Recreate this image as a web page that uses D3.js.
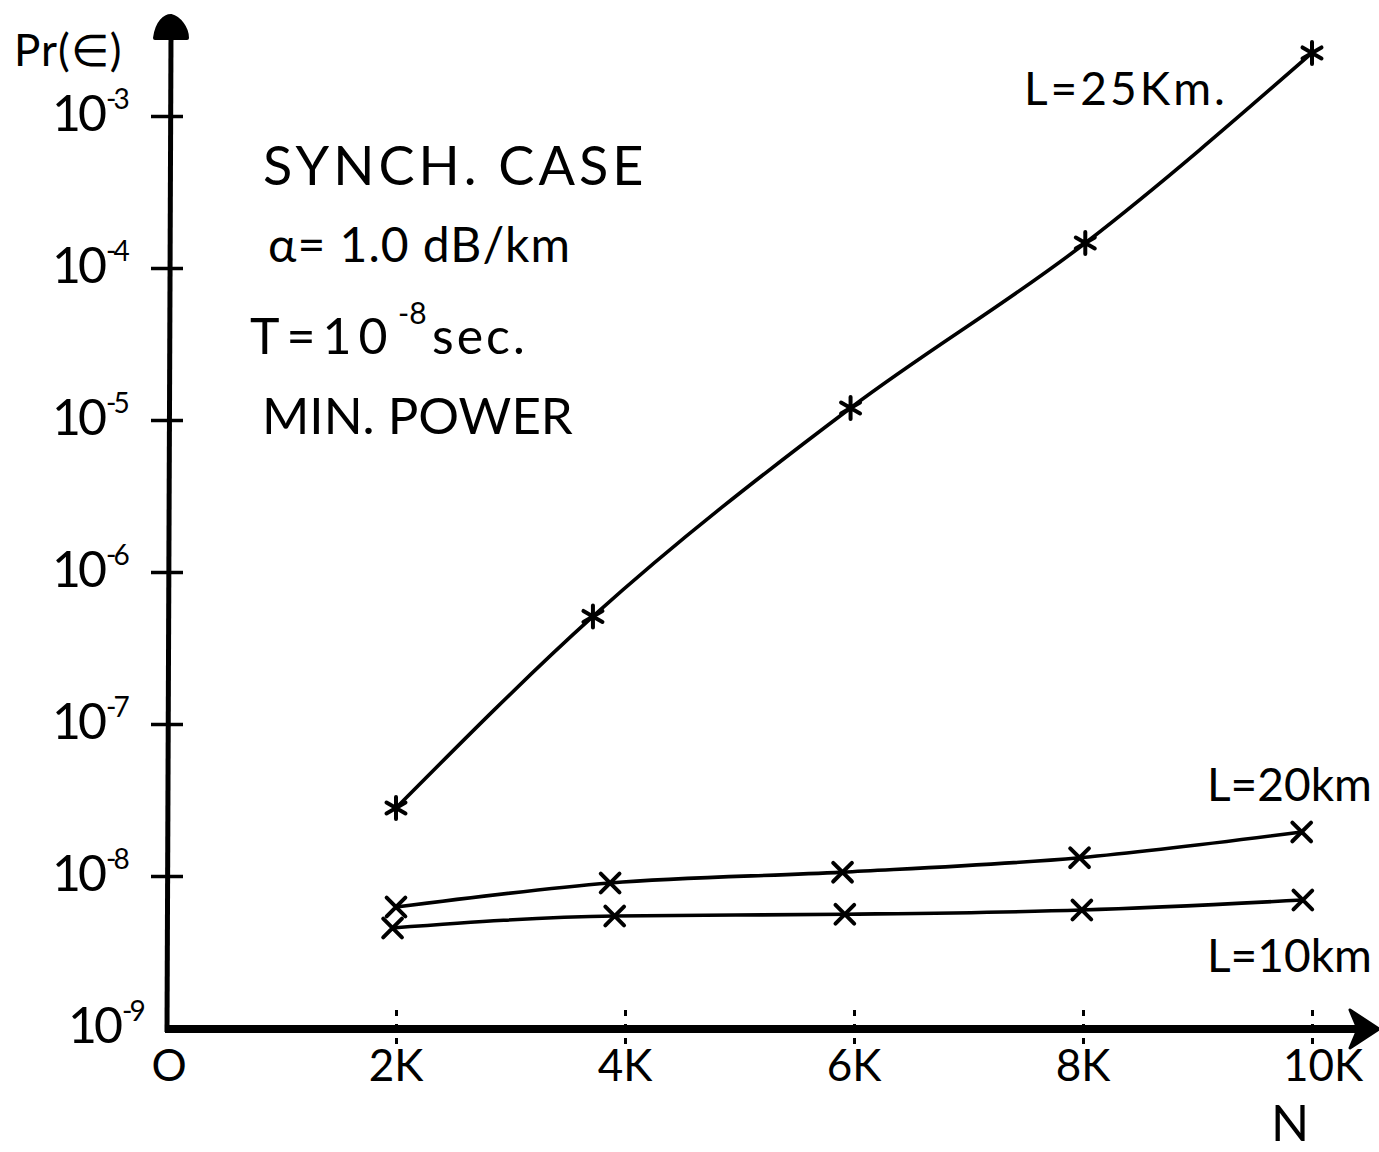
<!DOCTYPE html>
<html>
<head>
<meta charset="utf-8">
<script src="https://cdn.jsdelivr.net/npm/d3@7/dist/d3.min.js"></script>
<style>
  html, body { margin: 0; padding: 0; background: #fff; }
  svg { display: block; }
  text { font-family: Lato, "Open Sans", sans-serif; fill: #000; }
</style>
</head>
<body>
<svg id="chart" width="1379" height="1152"></svg>
<script>
// Error probability versus N, log scale, for three link lengths
const nL25 = [2000, 3720, 5970, 8020, 10000];
const pL25 = [2.8e-8, 5.1e-7, 1.2e-5, 1.46e-4, 2.6e-3];
const nL20 = [2000, 3870, 5900, 7970, 9910];
const pL20 = [6.25e-9, 9.0e-9, 1.06e-8, 1.32e-8, 1.95e-8];
const nL10 = [1970, 3910, 5920, 7990, 9920];
const pL10 = [4.55e-9, 5.46e-9, 5.6e-9, 5.97e-9, 6.95e-9];
const seriesNames = ["L=25Km.", "L=20km", "L=10km"];

const xTicks = [0, 2000, 4000, 6000, 8000, 10000];
const xTickLabels = ["O", "2K", "4K", "6K", "8K", "10K"];
const yTicks = [1e-3, 1e-4, 1e-5, 1e-6, 1e-7, 1e-8, 1e-9];
const yTickExps = ["-3", "-4", "-5", "-6", "-7", "-8", "-9"];

const notes = ["SYNCH. CASE", "α= 1.0 dB/km", "T=10", "-8", "sec.", "MIN. POWER"];

const svg = d3.select("#chart");
const x = d3.scaleLinear().domain([0, 10000]).range([167, 1312]);
const y = d3.scaleLog().domain([1e-9, 1e-3]).range([1028, 116]);

// Y axis: heavy line with arrow at the top, ticks crossing the line
const yAxis = d3.axisLeft(y).tickValues(yTicks).tickSize(0).tickFormat("");
const gy = svg.append("g").attr("transform", `translate(${x(0)},0)`).call(yAxis);
gy.select(".domain").remove();
gy.selectAll(".tick line")
  .attr("x1", -16).attr("x2", 16)
  .attr("stroke", "#000").attr("stroke-width", 3.5)
  .filter(d => d === 1e-9).remove();

svg.append("line")
  .attr("x1", x(0)).attr("y1", y(1e-9) + 4)
  .attr("x2", x(0) + 4).attr("y2", 35)
  .attr("stroke", "#000").attr("stroke-width", 5);
svg.append("path")
  .attr("d", `M${x(0) - 12},38 C${x(0) - 10},22 ${x(0) - 2},16 ${x(0) + 4},16 C${x(0) + 12},18 ${x(0) + 20},28 ${x(0) + 20},38 Z`)
  .attr("fill", "#000").attr("stroke", "#000").attr("stroke-width", 4).attr("stroke-linejoin", "round");

// Y tick labels: 10 with a raised exponent
const ylab = svg.append("g");
yTicks.forEach((v, i) => {
  const t = ylab.append("text")
    .attr("x", i === 6 ? 68 : 52)
    .attr("y", y(v) + 15)
    .attr("font-size", 50)
    .attr("letter-spacing", -3);
  t.append("tspan").text("10");
  t.append("tspan").attr("font-size", 28).attr("dy", -22).attr("dx", 2).text(yTickExps[i]);
});

svg.append("text").attr("x", 14).attr("y", 66).attr("font-size", 44).attr("letter-spacing", 1).text("Pr(∈)");

// X axis: thick baseline ending in an arrow, dotted tick marks
svg.append("line")
  .attr("x1", x(0) - 2).attr("y1", y(1e-9) + 1)
  .attr("x2", 1360).attr("y2", y(1e-9) + 1)
  .attr("stroke", "#000").attr("stroke-width", 8);
svg.append("path")
  .attr("d", `M1350,1010 L1379,1029 L1350,1048 L1358,1029 Z`)
  .attr("fill", "#000").attr("stroke", "#000").attr("stroke-width", 3).attr("stroke-linejoin", "round");

const xAxis = d3.axisBottom(x).tickValues(xTicks.slice(1)).tickSize(0).tickFormat("");
const gx = svg.append("g").attr("transform", `translate(0,${y(1e-9)})`).call(xAxis);
gx.select(".domain").remove();
gx.selectAll(".tick line")
  .attr("y1", -18).attr("y2", 20)
  .attr("stroke", "#000").attr("stroke-width", 3)
  .attr("stroke-dasharray", "6,8");

svg.append("g").selectAll("text").data(xTicks).join("text")
  .attr("x", (d, i) => x(d) + (i === 5 ? 11 : i === 0 ? 2 : 0))
  .attr("y", 1081)
  .attr("text-anchor", "middle")
  .attr("font-size", 44)
  .text((d, i) => xTickLabels[i]);

svg.append("text").attr("x", 1290).attr("y", 1141).attr("text-anchor", "middle")
  .attr("font-size", 50).text("N");

// Curves
const line = d3.line().x(d => x(d[0])).y(d => y(d[1])).curve(d3.curveMonotoneX);
const series = [
  { name: seriesNames[0], pts: d3.zip(nL25, pL25), sym: d3.symbolAsterisk },
  { name: seriesNames[1], pts: d3.zip(nL20, pL20), sym: d3.symbolTimes },
  { name: seriesNames[2], pts: d3.zip(nL10, pL10), sym: d3.symbolTimes }
];

series.forEach(s => {
  svg.append("path")
    .attr("d", line(s.pts))
    .attr("fill", "none").attr("stroke", "#000")
    .attr("stroke-width", 3.6).attr("stroke-linecap", "round");
  svg.append("g").selectAll("path").data(s.pts).join("path")
    .attr("transform", d => `translate(${x(d[0])},${y(d[1])})`)
    .attr("d", d3.symbol(s.sym, s.sym === d3.symbolTimes ? 230 : 340))
    .attr("fill", "none").attr("stroke", "#000").attr("stroke-width", 4)
    .attr("stroke-linecap", "round");
});

// Series labels
svg.append("text").attr("x", 1024).attr("y", 105).attr("font-size", 46).attr("letter-spacing", 3).text(seriesNames[0]);
svg.append("text").attr("x", 1207).attr("y", 801).attr("font-size", 46).text(seriesNames[1]);
svg.append("text").attr("x", 1207).attr("y", 972).attr("font-size", 46).text(seriesNames[2]);

// Parameter notes
svg.append("text").attr("x", 263).attr("y", 185).attr("font-size", 54).attr("letter-spacing", 4).text(notes[0]);
svg.append("text").attr("x", 268).attr("y", 262).attr("font-size", 48).attr("letter-spacing", 1).text(notes[1]);
svg.append("text").attr("x", 250).attr("y", 354).attr("font-size", 50).attr("letter-spacing", 7).text(notes[2]);
svg.append("text").attr("x", 398).attr("y", 324).attr("font-size", 30).text(notes[3]);
svg.append("text").attr("x", 432).attr("y", 354).attr("font-size", 50).attr("letter-spacing", 3).text(notes[4]);
svg.append("text").attr("x", 262).attr("y", 434).attr("font-size", 51).text(notes[5]);
</script>
</body>
</html>
